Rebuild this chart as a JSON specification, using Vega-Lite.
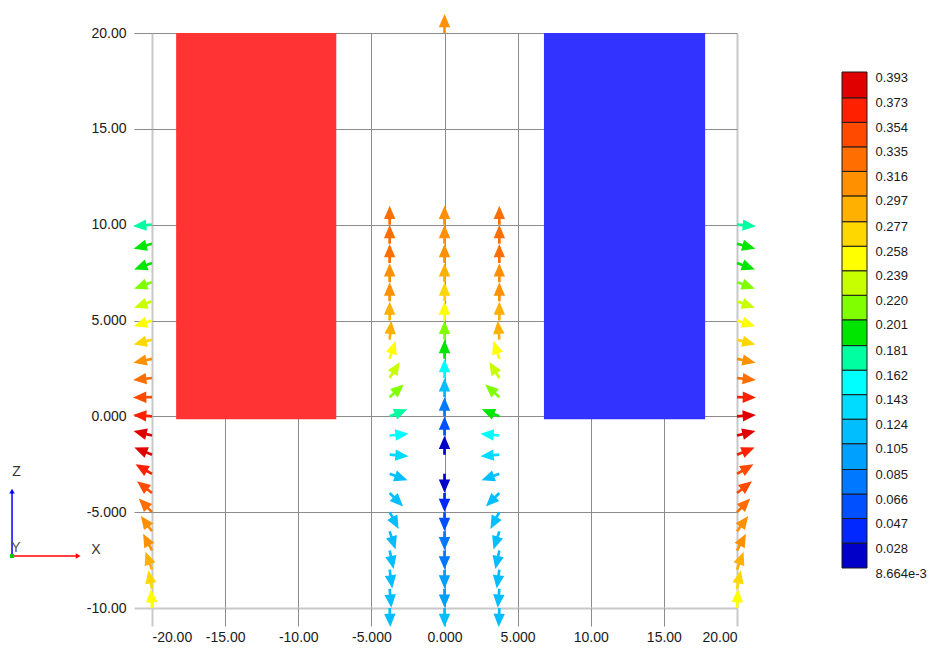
{
  "$schema": "https://vega.github.io/schema/vega-lite/v6.json",
  "background": "white",
  "padding": {"left": 9, "top": 14, "right": 5, "bottom": 5},
  "config": {
    "view": {"stroke": null},
    "font": "Liberation Sans",
    "axis": {"labelFont": "Liberation Sans", "labelFontSize": 14, "labelColor": "#1a1a1a"},
    "text": {"font": "Liberation Sans"}
  },
  "datasets": {
    "arrows": [
      {"x": 0, "z": 20, "dir": 90, "mag": 0.300},
      {"x": 0, "z": 10, "dir": 90, "mag": 0.305},
      {"x": 0, "z": 9, "dir": 90, "mag": 0.302},
      {"x": 0, "z": 8, "dir": 90, "mag": 0.298},
      {"x": 0, "z": 7, "dir": 90, "mag": 0.285},
      {"x": 0, "z": 6, "dir": 90, "mag": 0.268},
      {"x": 0, "z": 5, "dir": 90, "mag": 0.250},
      {"x": 0, "z": 4, "dir": 90, "mag": 0.212},
      {"x": 0, "z": 3, "dir": 90, "mag": 0.190},
      {"x": 0, "z": 2, "dir": 90, "mag": 0.150},
      {"x": 0, "z": 1, "dir": 90, "mag": 0.115},
      {"x": 0, "z": 0, "dir": 90, "mag": 0.080},
      {"x": 0, "z": -1, "dir": 90, "mag": 0.050},
      {"x": 0, "z": -2, "dir": 90, "mag": 0.020},
      {"x": 0, "z": -3, "dir": 270, "mag": 0.022},
      {"x": 0, "z": -4, "dir": 270, "mag": 0.040},
      {"x": 0, "z": -5, "dir": 270, "mag": 0.055},
      {"x": 0, "z": -6, "dir": 270, "mag": 0.068},
      {"x": 0, "z": -7, "dir": 270, "mag": 0.078},
      {"x": 0, "z": -8, "dir": 270, "mag": 0.088},
      {"x": 0, "z": -9, "dir": 270, "mag": 0.098},
      {"x": 0, "z": -10, "dir": 270, "mag": 0.108},

      {"x": -3.75, "z": 10, "dir": 90, "mag": 0.320},
      {"x": -3.75, "z": 9, "dir": 90, "mag": 0.320},
      {"x": -3.75, "z": 8, "dir": 90, "mag": 0.318},
      {"x": -3.75, "z": 7, "dir": 90, "mag": 0.310},
      {"x": -3.75, "z": 6, "dir": 90, "mag": 0.302},
      {"x": -3.75, "z": 5, "dir": 90, "mag": 0.292},
      {"x": -3.75, "z": 4, "dir": 85, "mag": 0.282},
      {"x": -3.75, "z": 3, "dir": 72, "mag": 0.255},
      {"x": -3.75, "z": 2, "dir": 58, "mag": 0.230},
      {"x": -3.75, "z": 1, "dir": 42, "mag": 0.210},
      {"x": -3.75, "z": 0, "dir": 22, "mag": 0.172},
      {"x": -3.75, "z": -1, "dir": 5, "mag": 0.150},
      {"x": -3.75, "z": -2, "dir": 355, "mag": 0.132},
      {"x": -3.75, "z": -3, "dir": 340, "mag": 0.120},
      {"x": -3.75, "z": -4, "dir": 315, "mag": 0.116},
      {"x": -3.75, "z": -5, "dir": 298, "mag": 0.115},
      {"x": -3.75, "z": -6, "dir": 288, "mag": 0.114},
      {"x": -3.75, "z": -7, "dir": 282, "mag": 0.114},
      {"x": -3.75, "z": -8, "dir": 278, "mag": 0.115},
      {"x": -3.75, "z": -9, "dir": 275, "mag": 0.116},
      {"x": -3.75, "z": -10, "dir": 272, "mag": 0.118},

      {"x": 3.75, "z": 10, "dir": 90, "mag": 0.320},
      {"x": 3.75, "z": 9, "dir": 90, "mag": 0.320},
      {"x": 3.75, "z": 8, "dir": 90, "mag": 0.318},
      {"x": 3.75, "z": 7, "dir": 90, "mag": 0.310},
      {"x": 3.75, "z": 6, "dir": 90, "mag": 0.302},
      {"x": 3.75, "z": 5, "dir": 90, "mag": 0.292},
      {"x": 3.75, "z": 4, "dir": 95, "mag": 0.282},
      {"x": 3.75, "z": 3, "dir": 108, "mag": 0.255},
      {"x": 3.75, "z": 2, "dir": 122, "mag": 0.230},
      {"x": 3.75, "z": 1, "dir": 138, "mag": 0.212},
      {"x": 3.75, "z": 0, "dir": 158, "mag": 0.190},
      {"x": 3.75, "z": -1, "dir": 175, "mag": 0.150},
      {"x": 3.75, "z": -2, "dir": 185, "mag": 0.132},
      {"x": 3.75, "z": -3, "dir": 200, "mag": 0.120},
      {"x": 3.75, "z": -4, "dir": 225, "mag": 0.116},
      {"x": 3.75, "z": -5, "dir": 242, "mag": 0.115},
      {"x": 3.75, "z": -6, "dir": 252, "mag": 0.114},
      {"x": 3.75, "z": -7, "dir": 258, "mag": 0.114},
      {"x": 3.75, "z": -8, "dir": 262, "mag": 0.115},
      {"x": 3.75, "z": -9, "dir": 265, "mag": 0.116},
      {"x": 3.75, "z": -10, "dir": 268, "mag": 0.118},

      {"x": -20, "z": 10, "dir": 185, "mag": 0.170},
      {"x": -20, "z": 9, "dir": 195, "mag": 0.185},
      {"x": -20, "z": 8, "dir": 200, "mag": 0.195},
      {"x": -20, "z": 7, "dir": 200, "mag": 0.205},
      {"x": -20, "z": 6, "dir": 200, "mag": 0.225},
      {"x": -20, "z": 5, "dir": 198, "mag": 0.248},
      {"x": -20, "z": 4, "dir": 195, "mag": 0.275},
      {"x": -20, "z": 3, "dir": 192, "mag": 0.300},
      {"x": -20, "z": 2, "dir": 186, "mag": 0.330},
      {"x": -20, "z": 1, "dir": 181, "mag": 0.348},
      {"x": -20, "z": 0, "dir": 176, "mag": 0.368},
      {"x": -20, "z": -1, "dir": 166, "mag": 0.382},
      {"x": -20, "z": -2, "dir": 158, "mag": 0.378},
      {"x": -20, "z": -3, "dir": 150, "mag": 0.360},
      {"x": -20, "z": -4, "dir": 142, "mag": 0.345},
      {"x": -20, "z": -5, "dir": 134, "mag": 0.328},
      {"x": -20, "z": -6, "dir": 126, "mag": 0.312},
      {"x": -20, "z": -7, "dir": 118, "mag": 0.300},
      {"x": -20, "z": -8, "dir": 110, "mag": 0.288},
      {"x": -20, "z": -9, "dir": 101, "mag": 0.272},
      {"x": -20, "z": -10, "dir": 93, "mag": 0.252},

      {"x": 20, "z": 10, "dir": 355, "mag": 0.170},
      {"x": 20, "z": 9, "dir": 345, "mag": 0.185},
      {"x": 20, "z": 8, "dir": 340, "mag": 0.195},
      {"x": 20, "z": 7, "dir": 340, "mag": 0.205},
      {"x": 20, "z": 6, "dir": 340, "mag": 0.225},
      {"x": 20, "z": 5, "dir": 342, "mag": 0.248},
      {"x": 20, "z": 4, "dir": 345, "mag": 0.275},
      {"x": 20, "z": 3, "dir": 348, "mag": 0.300},
      {"x": 20, "z": 2, "dir": 354, "mag": 0.330},
      {"x": 20, "z": 1, "dir": 359, "mag": 0.355},
      {"x": 20, "z": 0, "dir": 4, "mag": 0.375},
      {"x": 20, "z": -1, "dir": 14, "mag": 0.380},
      {"x": 20, "z": -2, "dir": 22, "mag": 0.365},
      {"x": 20, "z": -3, "dir": 30, "mag": 0.350},
      {"x": 20, "z": -4, "dir": 38, "mag": 0.340},
      {"x": 20, "z": -5, "dir": 46, "mag": 0.328},
      {"x": 20, "z": -6, "dir": 54, "mag": 0.312},
      {"x": 20, "z": -7, "dir": 62, "mag": 0.300},
      {"x": 20, "z": -8, "dir": 70, "mag": 0.285},
      {"x": 20, "z": -9, "dir": 79, "mag": 0.270},
      {"x": 20, "z": -10, "dir": 87, "mag": 0.252}
    ],
    "bins": [
      {"lo": 0.008664, "hi": 0.028},
      {"lo": 0.028, "hi": 0.047},
      {"lo": 0.047, "hi": 0.066},
      {"lo": 0.066, "hi": 0.085},
      {"lo": 0.085, "hi": 0.105},
      {"lo": 0.105, "hi": 0.124},
      {"lo": 0.124, "hi": 0.143},
      {"lo": 0.143, "hi": 0.162},
      {"lo": 0.162, "hi": 0.181},
      {"lo": 0.181, "hi": 0.201},
      {"lo": 0.201, "hi": 0.220},
      {"lo": 0.220, "hi": 0.239},
      {"lo": 0.239, "hi": 0.258},
      {"lo": 0.258, "hi": 0.277},
      {"lo": 0.277, "hi": 0.297},
      {"lo": 0.297, "hi": 0.316},
      {"lo": 0.316, "hi": 0.335},
      {"lo": 0.335, "hi": 0.354},
      {"lo": 0.354, "hi": 0.373},
      {"lo": 0.373, "hi": 0.393}
    ]
  },
  "bounds": "flush",
  "spacing": 105,
  "hconcat": [
    {
      "width": 585,
      "height": 575,
      "layer": [
        {
          "data": {"values": [{"x1": -18.35, "x2": -7.4, "z1": -0.15, "z2": 20}]},
          "mark": {"type": "rect", "fill": "#FF3333"},
          "encoding": {
            "x": {
              "field": "x1", "type": "quantitative",
              "scale": {"domain": [-20, 20], "nice": false, "zero": false},
              "axis": {
                "title": null, "domain": false, "grid": true,
                "values": [-20, -15, -10, -5, 0, 5, 10, 15, 20],
                "labelExpr": "replace(abs(datum.value) >= 10 ? format(datum.value, '.2f') : format(datum.value, '.3f'), '\u2212', '-')",
                "tickSize": 18, "labelPadding": 4,
                "tickColor": {"condition": {"test": "abs(datum.value) == 20", "value": "#c8c8c8"}, "value": "#8c8c8c"},
                "tickWidth": {"condition": {"test": "abs(datum.value) == 20", "value": 2}, "value": 1},
                "gridColor": {"condition": {"test": "abs(datum.value) == 20", "value": "#c8c8c8"}, "value": "#8c8c8c"},
                "gridWidth": {"condition": {"test": "abs(datum.value) == 20", "value": 2}, "value": 1},
                "gridOpacity": 1
              }
            },
            "x2": {"field": "x2"},
            "y": {
              "field": "z1", "type": "quantitative",
              "scale": {"domain": [-10, 20], "nice": false, "zero": false},
              "axis": {
                "title": null, "domain": false, "grid": true,
                "values": [-10, -5, 0, 5, 10, 15, 20],
                "labelExpr": "replace(abs(datum.value) >= 10 ? format(datum.value, '.2f') : format(datum.value, '.3f'), '\u2212', '-')",
                "tickSize": 18, "labelPadding": 8,
                "tickColor": {"condition": {"test": "datum.value == -10", "value": "#c8c8c8"}, "value": "#8c8c8c"},
                "tickWidth": {"condition": {"test": "datum.value == -10", "value": 2}, "value": 1},
                "gridColor": {"condition": {"test": "datum.value == -10", "value": "#c8c8c8"}, "value": "#8c8c8c"},
                "gridWidth": {"condition": {"test": "datum.value == -10", "value": 2}, "value": 1},
                "gridOpacity": 1
              }
            },
            "y2": {"field": "z2"}
          }
        },
        {
          "data": {"values": [{"x1": 6.8, "x2": 17.82, "z1": -0.15, "z2": 20}]},
          "mark": {"type": "rect", "fill": "#3333FF"},
          "encoding": {
            "x": {"field": "x1", "type": "quantitative"},
            "x2": {"field": "x2"},
            "y": {"field": "z1", "type": "quantitative"},
            "y2": {"field": "z2"}
          }
        },
        {
          "data": {"name": "arrows"},
          "mark": {
            "type": "point",
            "shape": "M-0.14,0 L-0.14,-0.6 L-0.6,-0.6 L0,-2 L0.6,-0.6 L0.14,-0.6 L0.14,0 Z",
            "filled": true, "size": 361, "opacity": 1, "strokeWidth": 0
          },
          "encoding": {
            "x": {"field": "x", "type": "quantitative"},
            "y": {"field": "z", "type": "quantitative"},
            "angle": {"field": "dir", "type": "quantitative", "scale": {"domain": [0, 360], "range": [90, -270]}},
            "color": {
              "field": "mag", "type": "quantitative", "legend": null,
              "scale": {
                "type": "threshold",
                "domain": [0.028, 0.047, 0.066, 0.085, 0.105, 0.124, 0.143, 0.162, 0.181, 0.201, 0.220, 0.239, 0.258, 0.277, 0.297, 0.316, 0.335, 0.354, 0.373],
                "range": ["#0000C8", "#0028FF", "#0050FF", "#0078FF", "#00A0FF", "#00BEFF", "#00DCFF", "#00FFFF", "#00FFA0", "#00E600", "#80FF00", "#C8FF00", "#FFFF00", "#FFD700", "#FFB000", "#FF9000", "#FF6E00", "#FF4A00", "#FF2000", "#E00000"]
              }
            }
          }
        },
        {
          "data": {"values": [{}]},
          "mark": {"type": "rule", "color": "#0000FF", "strokeWidth": 1.5},
          "encoding": {"x": {"datum": -29.57}, "y": {"datum": -7.29}, "y2": {"datum": -3.95}}
        },
        {
          "data": {"values": [{}]},
          "mark": {"type": "rule", "color": "#FF0000", "strokeWidth": 1.5},
          "encoding": {"x": {"datum": -29.57}, "x2": {"datum": -25.2}, "y": {"datum": -7.29}}
        },
        {
          "data": {"values": [{}]},
          "mark": {"type": "point", "shape": "triangle-up", "filled": true, "color": "#0000FF", "size": 30, "opacity": 1},
          "encoding": {"x": {"datum": -29.57}, "y": {"datum": -3.9}}
        },
        {
          "data": {"values": [{}]},
          "mark": {"type": "point", "shape": "triangle-right", "filled": true, "color": "#FF0000", "size": 30, "opacity": 1},
          "encoding": {"x": {"datum": -25.05}, "y": {"datum": -7.29}}
        },
        {
          "data": {"values": [{}]},
          "mark": {"type": "point", "shape": "square", "filled": true, "color": "#00CC00", "size": 16, "opacity": 1},
          "encoding": {"x": {"datum": -29.57}, "y": {"datum": -7.29}}
        },
        {
          "data": {"values": [{}]},
          "mark": {"type": "text", "fontSize": 14, "color": "#333333"},
          "encoding": {"x": {"datum": -29.27}, "y": {"datum": -2.9}, "text": {"value": "Z"}}
        },
        {
          "data": {"values": [{}]},
          "mark": {"type": "text", "fontSize": 14, "color": "#333333"},
          "encoding": {"x": {"datum": -23.83}, "y": {"datum": -6.98}, "text": {"value": "X"}}
        },
        {
          "data": {"values": [{}]},
          "mark": {"type": "text", "fontSize": 14, "color": "#555555"},
          "encoding": {"x": {"datum": -29.3}, "y": {"datum": -6.87}, "text": {"value": "Y"}}
        }
      ]
    },
    {
      "width": 25,
      "height": 575,
      "data": {"name": "bins"},
      "mark": {"type": "rect", "stroke": "#1a1a1a", "strokeWidth": 1},
      "encoding": {
        "y": {
          "field": "lo", "type": "quantitative",
          "scale": {"domain": [-0.02233, 0.42322], "nice": false, "zero": false},
          "axis": {
            "orient": "right", "title": null, "domain": false, "ticks": false, "grid": false,
            "values": [0.008664, 0.028, 0.047, 0.066, 0.085, 0.105, 0.124, 0.143, 0.162, 0.181, 0.201, 0.220, 0.239, 0.258, 0.277, 0.297, 0.316, 0.335, 0.354, 0.373, 0.393],
            "labelExpr": "datum.value < 0.01 ? '8.664e-3' : format(datum.value, '.3f')",
            "labelPadding": 8, "labelOffset": 5, "labelFontSize": 13
          }
        },
        "y2": {"field": "hi"},
        "color": {
          "field": "lo", "type": "quantitative", "legend": null,
          "scale": {
            "type": "threshold",
            "domain": [0.028, 0.047, 0.066, 0.085, 0.105, 0.124, 0.143, 0.162, 0.181, 0.201, 0.220, 0.239, 0.258, 0.277, 0.297, 0.316, 0.335, 0.354, 0.373],
            "range": ["#0000C8", "#0028FF", "#0050FF", "#0078FF", "#00A0FF", "#00BEFF", "#00DCFF", "#00FFFF", "#00FFA0", "#00E600", "#80FF00", "#C8FF00", "#FFFF00", "#FFD700", "#FFB000", "#FF9000", "#FF6E00", "#FF4A00", "#FF2000", "#E00000"]
          }
        }
      }
    }
  ]
}
